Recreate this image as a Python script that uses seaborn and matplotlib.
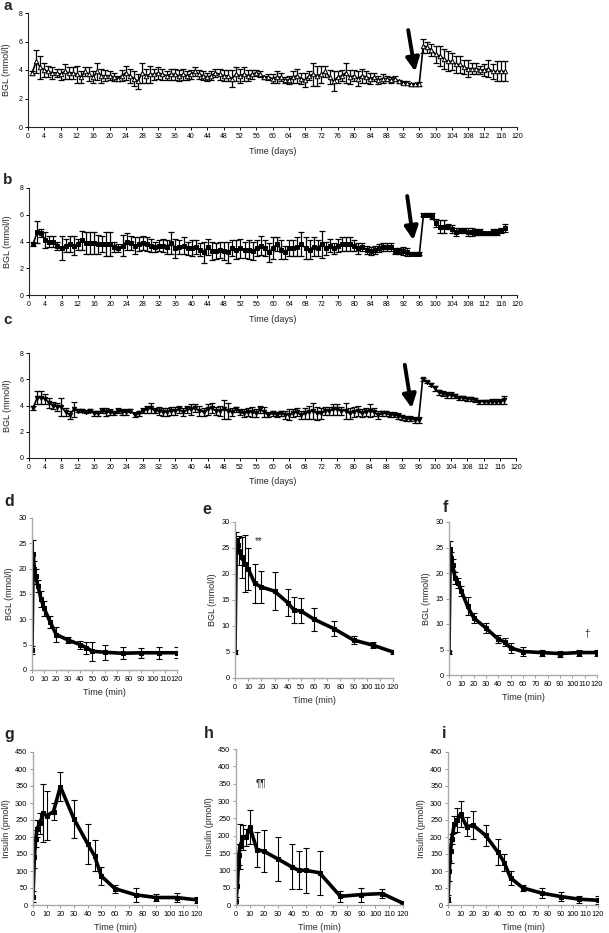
import numpy as np
import pandas as pd
import seaborn as sns
import matplotlib.pyplot as plt

# ---- long-term BGL (days 1-117) ----
days = list(range(1, 118))

a_mean = [3.8, 4.6, 4.2, 4.0, 3.9, 3.8, 3.8, 3.7, 3.9, 3.8,
          3.8, 3.7, 3.5, 3.9, 3.7, 3.5, 3.9, 3.6, 3.6, 3.6,
          3.5, 3.4, 3.6, 3.8, 3.6, 3.4, 3.2, 3.8, 3.6, 3.7,
          3.7, 3.8, 3.7, 3.6, 3.7, 3.7, 3.6, 3.7, 3.6, 3.7,
          3.9, 3.7, 3.6, 3.5, 3.6, 3.8, 3.7, 3.6, 3.6, 3.4,
          3.7, 3.6, 3.7, 3.6, 3.7, 3.8, 3.7, 3.5, 3.5, 3.4,
          3.5, 3.5, 3.3, 3.3, 3.5, 3.6, 3.4, 3.3, 3.6, 3.7,
          3.6, 3.7, 3.9, 3.5, 3.2, 3.5, 3.6, 3.8, 3.5, 3.6,
          3.4, 3.6, 3.5, 3.4, 3.5, 3.3, 3.4, 3.4, 3.3, 3.4,
          3.2, 3.1, 3.1, 3.0, 3.0, 3.0, 5.7, 5.6, 5.4, 5.1,
          5.0, 4.8, 4.6, 4.6, 4.4, 4.4, 4.2, 4.1, 4.1, 4.1,
          4.0, 4.0, 4.1, 3.9, 3.9, 3.9, 3.9]
a_err = [0.15, 0.8, 0.8, 0.5, 0.4, 0.4, 0.3, 0.4, 0.5, 0.4,
         0.4, 0.6, 0.4, 0.3, 0.5, 0.4, 0.6, 0.5, 0.4, 0.3,
         0.3, 0.2, 0.4, 0.5, 0.5, 0.5, 0.5, 0.7, 0.5, 0.6,
         0.4, 0.4, 0.4, 0.3, 0.4, 0.4, 0.4, 0.4, 0.3, 0.3,
         0.3, 0.3, 0.3, 0.3, 0.3, 0.3, 0.4, 0.4, 0.4, 0.6,
         0.5, 0.5, 0.5, 0.4, 0.3, 0.2, 0.2, 0.1, 0.2, 0.3,
         0.4, 0.3, 0.2, 0.3, 0.4, 0.5, 0.4, 0.5, 0.3, 0.8,
         0.7, 0.6, 0.4, 0.5, 0.7, 0.4, 0.4, 0.7, 0.5, 0.4,
         0.5, 0.5, 0.4, 0.4, 0.3, 0.3, 0.3, 0.2, 0.2, 0.2,
         0.1, 0.1, 0.1, 0.1, 0.1, 0.15, 0.5, 0.4, 0.4, 0.6,
         0.7, 0.7, 0.7, 0.6, 0.6, 0.6, 0.5, 0.6, 0.4, 0.4,
         0.3, 0.4, 0.6, 0.5, 0.7, 0.7, 0.7]

b_mean = [3.8, 4.7, 4.6, 4.1, 4.0, 4.0, 3.7, 3.5, 3.7, 3.8,
          3.7, 3.8, 4.1, 3.9, 3.9, 3.9, 3.8, 3.8, 3.8, 3.8,
          3.6, 3.5, 3.7, 4.0, 3.9, 3.7, 3.8, 3.9, 3.8, 3.7,
          3.6, 3.7, 3.7, 3.6, 3.9, 3.5, 3.6, 3.7, 3.5, 3.5,
          3.6, 3.4, 3.2, 3.6, 3.3, 3.3, 3.4, 3.3, 3.2, 3.5,
          3.4, 3.5, 3.4, 3.4, 3.3, 3.5, 3.7, 3.5, 3.2, 3.5,
          3.8, 3.4, 3.2, 3.5, 3.5, 3.6, 3.8, 3.5, 3.4, 3.6,
          3.5, 3.8, 3.5, 3.7, 3.5, 3.7, 3.8, 3.8, 3.8, 3.7,
          3.5, 3.6, 3.4, 3.3, 3.4, 3.5, 3.6, 3.6, 3.6, 3.3,
          3.3, 3.3, 3.2, 3.1, 3.1, 3.1, 6.0, 6.0, 5.9, 5.4,
          5.1, 5.1, 5.1, 4.9, 4.7, 4.8, 4.8, 4.7, 4.7, 4.7,
          4.7, 4.6, 4.6, 4.7, 4.7, 4.8, 5.0]
b_err = [0.15, 0.8, 0.3, 0.6, 0.4, 0.4, 0.3, 0.9, 0.5, 0.6,
         0.7, 0.4, 0.7, 0.8, 0.8, 0.8, 0.7, 0.6, 0.9, 0.9,
         0.4, 0.3, 0.8, 0.6, 0.5, 0.6, 0.5, 0.5, 0.5, 0.5,
         0.4, 0.4, 0.5, 0.5, 0.8, 0.7, 0.5, 0.6, 0.5, 0.6,
         0.5, 0.5, 0.8, 0.6, 0.7, 0.6, 0.6, 0.7, 0.8, 0.6,
         0.7, 0.7, 0.6, 0.7, 0.7, 0.6, 0.7, 0.6, 0.7, 0.8,
         0.5, 0.7, 0.5, 0.6, 0.6, 0.7, 0.9, 0.8, 0.7, 0.7,
         0.6, 1.0, 0.5, 0.5, 0.4, 0.5, 0.5, 0.5, 0.5, 0.4,
         0.4, 0.3, 0.3, 0.3, 0.3, 0.3, 0.3, 0.3, 0.3, 0.2,
         0.2, 0.3, 0.3, 0.1, 0.1, 0.1, 0.1, 0.1, 0.2, 0.3,
         0.5, 0.5, 0.2, 0.3, 0.3, 0.2, 0.2, 0.3, 0.3, 0.2,
         0.2, 0.1, 0.1, 0.2, 0.2, 0.2, 0.3]

c_mean = [3.8, 4.6, 4.6, 4.5, 4.2, 4.0, 3.9, 3.9, 3.5, 3.3,
          3.7, 3.6, 3.6, 3.5, 3.6, 3.4, 3.4, 3.6, 3.5, 3.5,
          3.4, 3.6, 3.5, 3.5, 3.6, 3.3, 3.4, 3.6, 3.7, 3.8,
          3.6, 3.6, 3.5, 3.5, 3.6, 3.6, 3.7, 3.5, 3.7, 3.7,
          3.8, 3.6, 3.5, 3.7, 3.8, 3.6, 3.6, 3.7, 3.6, 3.5,
          3.7, 3.5, 3.4, 3.5, 3.5, 3.4, 3.7, 3.5, 3.3, 3.4,
          3.3, 3.4, 3.3, 3.3, 3.4, 3.5, 3.3, 3.4, 3.5, 3.6,
          3.4, 3.4, 3.6, 3.6, 3.7, 3.7, 3.6, 3.6, 3.4, 3.5,
          3.6, 3.4, 3.5, 3.6, 3.5, 3.3, 3.4, 3.4, 3.3, 3.3,
          3.2, 3.1, 3.0, 3.0, 2.9, 2.9, 6.0, 5.8, 5.6, 5.3,
          5.0, 4.9, 4.8, 4.8, 4.7, 4.6, 4.6, 4.5, 4.5, 4.4,
          4.3, 4.3, 4.3, 4.3, 4.3, 4.3, 4.4]
c_err = [0.15, 0.5, 0.5, 0.4, 0.4, 0.3, 0.3, 0.7, 0.3, 0.3,
         0.6, 0.1, 0.1, 0.1, 0.1, 0.2, 0.2, 0.2, 0.3, 0.2,
         0.1, 0.2, 0.2, 0.2, 0.1, 0.2, 0.2, 0.2, 0.3, 0.4,
         0.2, 0.3, 0.3, 0.3, 0.3, 0.3, 0.3, 0.3, 0.3, 0.4,
         0.3, 0.4, 0.3, 0.4, 0.4, 0.3, 0.4, 0.7, 0.6, 0.3,
         0.2, 0.2, 0.3, 0.3, 0.4, 0.3, 0.3, 0.4, 0.2, 0.2,
         0.2, 0.2, 0.3, 0.4, 0.3, 0.3, 0.3, 0.4, 0.5, 0.6,
         0.5, 0.4, 0.3, 0.3, 0.4, 0.4, 0.3, 0.6, 0.4, 0.4,
         0.4, 0.3, 0.3, 0.5, 0.3, 0.3, 0.2, 0.2, 0.2, 0.2,
         0.2, 0.2, 0.2, 0.2, 0.2, 0.2, 0.1, 0.1, 0.15, 0.2,
         0.2, 0.2, 0.2, 0.2, 0.15, 0.15, 0.15, 0.15, 0.15, 0.15,
         0.15, 0.15, 0.15, 0.2, 0.2, 0.2, 0.3]

# ---- glucose tolerance tests (minutes) ----
minutes = [0, 1, 2, 3, 5, 7.5, 10, 15, 20, 30, 40, 45, 50, 60, 75, 90, 105, 120]

d_mean = [4.0, 22.8, 20.0, 18.5, 16.5, 14.0, 12.2, 9.5, 7.0, 5.9, 5.0, 4.4, 3.7, 3.5, 3.3, 3.4, 3.4, 3.4]
d_err = [0.8, 2.8, 1.5, 1.5, 1.2, 1.5, 1.5, 1.2, 1.5, 0.6, 0.8, 1.2, 1.9, 1.5, 1.2, 1.0, 1.2, 1.1]
e_mean = [5.0, 26.5, 25.5, 24.5, 23.2, 22.0, 21.0, 18.2, 17.5, 16.7, 14.5, 13.0, 12.9, 11.3, 9.5, 7.3, 6.3, 5.0]
e_err = [0.3, 1.5, 1.5, 2.8, 4.0, 5.5, 4.0, 3.7, 3.0, 3.7, 2.6, 2.5, 2.4, 2.2, 1.4, 0.8, 0.6, 0.4]
f_mean = [4.5, 24.7, 23.0, 21.5, 19.0, 18.0, 16.5, 13.5, 11.2, 9.2, 7.0, 6.5, 5.3, 4.6, 4.4, 4.2, 4.4, 4.4]
f_err = [0.3, 1.6, 1.2, 1.2, 1.2, 1.0, 1.0, 1.8, 1.0, 1.0, 0.8, 0.8, 1.0, 0.8, 0.6, 0.6, 0.6, 0.6]

g_mean = [25, 140, 195, 225, 240, 270, 262, 275, 348, 253, 180, 145, 85, 48, 30, 22, 22, 15]
g_err = [15, 30, 25, 25, 30, 85, 72, 25, 42, 55, 58, 45, 27, 12, 20, 10, 13, 8]
h_mean = [12, 55, 145, 170, 195, 195, 225, 160, 155, 133, 110, 100, 100, 93, 25, 30, 33, 5]
h_err = [12, 60, 30, 65, 35, 25, 50, 50, 60, 63, 65, 55, 65, 63, 15, 20, 12, 3]
i_mean = [18, 100, 160, 195, 237, 250, 268, 230, 235, 205, 155, 125, 80, 50, 35, 25, 17, 14]
i_err = [10, 30, 35, 15, 25, 35, 38, 28, 42, 30, 38, 25, 20, 10, 15, 12, 10, 12]

sns.set_style("ticks")
plt.rcParams['font.family'] = ['Liberation Sans', 'DejaVu Sans']

W, H = 609, 933
fig = plt.figure(figsize=(W / 100, H / 100), dpi=100)


def box(l, r, t, b):
    return [l / W, 1 - b / H, (r - l) / W, (b - t) / H]


# ---- panels a-c ----
long_panels = [
    ("a", a_mean, a_err, box(28, 517, 13, 127), "^", "white", (93.3, 6.8), (95.0, 3.9), 6),
    ("b", b_mean, b_err, box(29, 517, 188, 295), "s", "black", (93.0, 7.4), (94.5, 4.1), 180),
    ("c", c_mean, c_err, box(29, 516, 353, 458), "v", "black", (92.6, 7.1), (94.3, 3.8), 320),
]
for lab, mean, err, rect, mk, mfc, tail, head, ly in long_panels:
    ax = fig.add_axes(rect)
    df = pd.DataFrame({"day": days, "bgl": mean})
    ax.errorbar(days, mean, yerr=err, fmt="none", ecolor="black", elinewidth=0.9, capsize=2.2, capthick=0.9)
    sns.lineplot(data=df, x="day", y="bgl", ax=ax, color="black", lw=1.2, marker=mk,
                 markersize=3.2, markerfacecolor=mfc, markeredgecolor="black", markeredgewidth=0.7)
    ax.set_xlim(0, 120)
    ax.set_ylim(0, 8)
    ax.set_xticks(range(0, 121, 4))
    ax.set_yticks(range(0, 9, 2))
    ax.tick_params(labelsize=5, length=2.5, width=0.7, colors="black", pad=1.5)
    for sp in ("left", "bottom"):
        ax.spines[sp].set_linewidth(0.8)
    sns.despine(ax=ax)
    ax.set_xlabel("Time (days)", fontsize=6.5, labelpad=5)
    ax.set_ylabel("BGL (mmol/l)", fontsize=6.5, labelpad=5)
    ax.annotate("", xy=head, xytext=tail,
                arrowprops=dict(arrowstyle="-|>,head_length=0.8,head_width=0.4", lw=2.8, color="black",
                                shrinkA=0, shrinkB=0))
    fig.text(3 / W, 1 - ly / H, lab, fontsize=11, fontweight="bold", va="center", ha="left")

# ---- panels d-i ----
short_panels = [
    ("d", d_mean, d_err, box(32, 177, 518, 670), (4, 502), "BGL (mmol/l)", 30, 5, None),
    ("e", e_mean, e_err, box(235, 393, 522, 678), (202, 510), "BGL (mmol/l)", 30, 5, ("**", 18, 26.3)),
    ("f", f_mean, f_err, box(449, 597, 522, 675), (443, 507), "BGL (mmol/l)", 30, 5, ("\u2020", 112, 8.0)),
    ("g", g_mean, g_err, box(33, 197, 752, 905), (4, 735), "Insulin (pmol/l)", 450, 50, None),
    ("h", h_mean, h_err, box(236, 403, 749, 905), (204, 734), "Insulin (pmol/l)", 450, 50, ("\u00b6\u00b6", 18, 350)),
    ("i", i_mean, i_err, box(448, 598, 752, 905), (442, 733), "Insulin (pmol/l)", 450, 50, None),
]
for lab, mean, err, rect, lpos, ylab, ymax, ystep, note in short_panels:
    ax = fig.add_axes(rect)
    df = pd.DataFrame({"min": minutes, "val": mean})
    ax.errorbar(minutes, mean, yerr=err, fmt="none", ecolor="black", elinewidth=0.8, capsize=2.2, capthick=0.8)
    sns.lineplot(data=df, x="min", y="val", ax=ax, color="black", lw=2.6, marker="s",
                 markersize=3.5, markeredgecolor="black")
    ax.set_xlim(0, 120)
    ax.set_ylim(0, ymax)
    ax.set_xticks(range(0, 121, 10))
    ax.set_yticks(range(0, ymax + 1, ystep))
    ax.tick_params(labelsize=5.3, length=2.5, width=0.7, color="#999999", labelcolor="black", pad=1.5)
    sns.despine(ax=ax)
    for sp in ("left", "bottom"):
        ax.spines[sp].set_color("#aaaaaa")
        ax.spines[sp].set_linewidth(1.0)
    ax.set_xlabel("Time (min)", fontsize=6.5, labelpad=4)
    ax.set_ylabel(ylab, fontsize=6.5, labelpad=3)
    if note is not None:
        ax.text(note[1], note[2], note[0], fontsize=7, ha="center", va="center")
    fig.text(lpos[0] / W, 1 - lpos[1] / H, lab, fontsize=11.5, fontweight="bold", va="center", ha="left")

fig.savefig("out.png", dpi=100)
